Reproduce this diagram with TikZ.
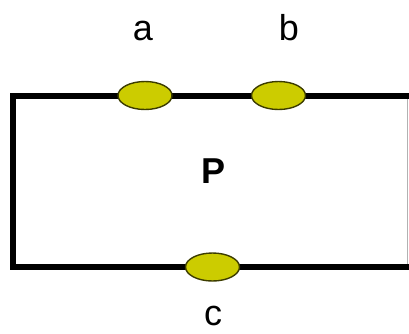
\documentclass[tikz,border=0pt]{standalone}
\usepackage{fontspec}
\setmainfont{Liberation Sans}
\usetikzlibrary{shapes.geometric}
\definecolor{padfill}{RGB}{204,204,0}
\definecolor{padedge}{RGB}{60,60,0}
\begin{document}
\begin{tikzpicture}[x=1pt,y=-1pt,
  wire/.style={line width=5.5pt,line join=miter},
  pad/.style={ellipse,draw=padedge,fill=padfill,line width=1.4pt,minimum width=54pt,minimum height=28pt,inner sep=0pt},
  lbl/.style={anchor=base,inner sep=0pt,font=\fontsize{36}{40}\selectfont}]
\useasboundingbox (0,0) rectangle (409,333);
\coordinate (tl) at (13,96);
\coordinate (bl) at (13,267);
\coordinate (tr) at (412,96);
\coordinate (br) at (412,267);
\coordinate (edgeT) at (407,99);
\coordinate (edgeB) at (407,264);
\draw[gray!60,line width=0.7pt] (edgeT) -- (edgeB);
\draw[wire] (tr) -- (tl) -- (bl) -- (br);
\node[pad] (a) at (145,95.5) {};
\node[pad] (b) at (278.5,95.5) {};
\node[pad] (c) at (212.5,267) {};
\node[lbl] (la) at (143,40) {a};
\node[lbl] (lb) at (289,40) {b};
\node[lbl,font=\fontsize{36}{40}\selectfont\bfseries] (lp) at (214,183) {P};
\node[lbl] (lc) at (213,325) {c};
\end{tikzpicture}
\end{document}
